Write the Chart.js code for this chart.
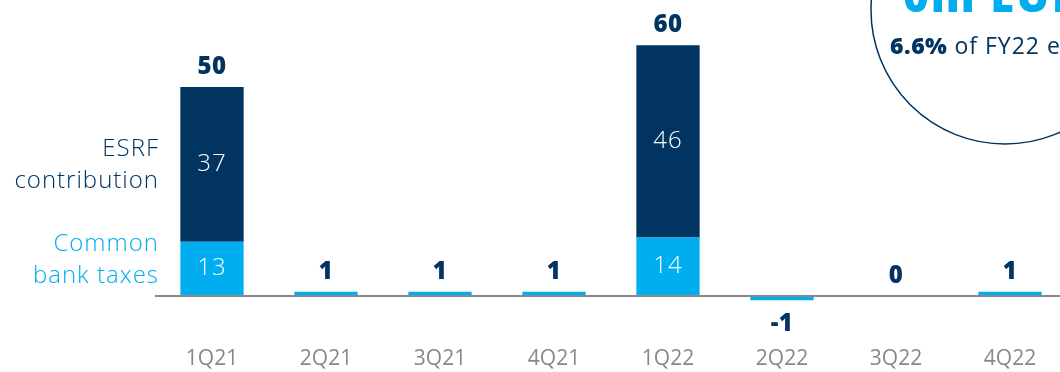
<!DOCTYPE html>
<html>
<head>
<meta charset="utf-8">
<script src="https://cdn.jsdelivr.net/npm/chart.js@4.4.1/dist/chart.umd.min.js"></script>
<style>
  html, body { margin: 0; padding: 0; background: #ffffff; overflow: hidden; }
  #wrap { position: relative; width: 1067px; height: 372px; }
</style>
</head>
<body>
<div id="wrap"><canvas id="taxChart"></canvas></div>
<script>
/* Quarterly bank taxes, m EUR */
const quarters = ['1Q21', '2Q21', '3Q21', '4Q21', '1Q22', '2Q22', '3Q22', '4Q22'];
const commonBankTaxes = [13, 1, 1, 1, 14, -1, 0, 1];
const esrfContribution = [37, 0, 0, 0, 46, 0, 0, 0];

const NAVY = '#023462';
const CYAN = '#00aeef';
const FONT = "'Open Sans', 'Lato', sans-serif";

/* numbers inside the bars, totals above/below, series names on the left,
   and the circled callout top right */
const annotations = {
    id: 'annotations',
    afterDatasetsDraw(chart) {
        const ctx = chart.ctx;
        const x = chart.scales.x;
        const y = chart.scales.y;
        ctx.save();

        // segment values
        ctx.fillStyle = '#ffffff';
        ctx.font = '300 24px ' + FONT;
        ctx.letterSpacing = '1px';
        ctx.textAlign = 'center';
        ctx.textBaseline = 'middle';
        chart.data.datasets.forEach((ds, di) => {
            const meta = chart.getDatasetMeta(di);
            meta.data.forEach((bar, i) => {
                const v = ds.data[i];
                if (Math.abs(v) < 5) return;
                ctx.fillText(String(v), bar.x, (bar.y + bar.base) / 2);
            });
        });

        // totals
        ctx.letterSpacing = '0.5px';
        ctx.fillStyle = NAVY;
        ctx.font = '800 24px ' + FONT;
        quarters.forEach((q, i) => {
            const total = commonBankTaxes[i] + esrfContribution[i];
            const cx = x.getPixelForValue(i);
            if (total < 0) {
                ctx.fillText('-' + Math.abs(total), cx, y.getPixelForValue(total) + 24);
            } else {
                ctx.fillText(String(total), cx, y.getPixelForValue(total) - 20);
            }
        });

        // series names next to the first bar
        ctx.letterSpacing = '1px';
        ctx.textAlign = 'right';
        ctx.font = '300 24px ' + FONT;
        const topMid = (y.getPixelForValue(commonBankTaxes[0]) + y.getPixelForValue(commonBankTaxes[0] + esrfContribution[0])) / 2;
        ctx.fillStyle = NAVY;
        ctx.fillText('ESRF', 159, topMid - 15);
        ctx.fillText('contribution', 159, topMid + 17);
        const base = y.getPixelForValue(0);
        ctx.fillStyle = CYAN;
        ctx.fillText('Common', 159, base - 52);
        ctx.fillText('bank taxes', 159, base - 20);

        // callout circle
        ctx.letterSpacing = '0px';
        ctx.beginPath();
        ctx.arc(1005, 10, 134, 0, Math.PI * 2);
        ctx.fillStyle = '#ffffff';
        ctx.fill();
        ctx.lineWidth = 1.5;
        ctx.strokeStyle = NAVY;
        ctx.stroke();

        ctx.textAlign = 'left';
        ctx.textBaseline = 'alphabetic';
        ctx.fillStyle = CYAN;
        ctx.font = '800 44px ' + FONT;
        ctx.letterSpacing = '2px';
        ctx.fillText('0m EUR', 903, 12);

        ctx.letterSpacing = '0.5px';
        ctx.fillStyle = NAVY;
        ctx.font = '800 23px ' + FONT;
        ctx.fillText('6.6%', 890, 54);
        const w = ctx.measureText('6.6%').width;
        ctx.letterSpacing = '1px';
        ctx.font = '400 23px ' + FONT;
        ctx.fillText(' of FY22 equity', 890 + w, 54);

        ctx.restore();
    }
};

new Chart(document.getElementById('taxChart'), {
    type: 'bar',
    data: {
        labels: quarters,
        datasets: [
            {
                label: 'Common bank taxes',
                data: commonBankTaxes,
                backgroundColor: CYAN,
                borderWidth: 0
            },
            {
                label: 'ESRF contribution',
                data: esrfContribution,
                backgroundColor: NAVY,
                borderWidth: 0
            }
        ]
    },
    options: {
        responsive: true,
        maintainAspectRatio: false,
        animation: false,
        layout: { padding: { left: 155, right: 0, top: 0, bottom: 0 } },
        datasets: {
            bar: { categoryPercentage: 1, barPercentage: 0.555 }
        },
        plugins: {
            legend: { display: false },
            tooltip: { enabled: false }
        },
        scales: {
            x: {
                stacked: true,
                grid: { display: false, drawTicks: false },
                border: { display: false },
                ticks: {
                    color: '#888888',
                    padding: 6,
                    font: { family: FONT, size: 21, weight: '400' }
                },
                afterFit: scale => { scale.height = 32; }
            },
            y: {
                stacked: true,
                min: -10.53,
                max: 70.8,
                ticks: { display: false },
                border: { display: false },
                grid: {
                    drawTicks: false,
                    lineWidth: 2,
                    color: c => (c.tick && c.tick.value === 0 ? '#8a8a8a' : 'rgba(0,0,0,0)')
                },
                afterBuildTicks: scale => { scale.ticks = [{ value: 0 }]; }
            }
        }
    },
    plugins: [annotations]
});
</script>
</body>
</html>
